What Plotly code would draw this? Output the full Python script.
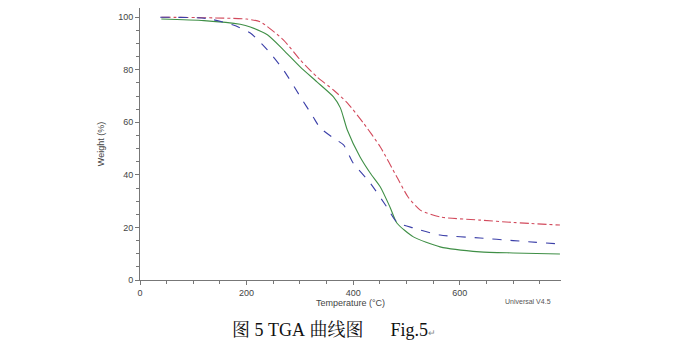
import plotly.graph_objects as go

# Temperature (°C) and weight (%)
red_T = [40, 120, 200, 226, 269, 301, 332, 363, 389, 419, 451, 482, 503, 526, 563, 638, 700, 788]
red_W = [100, 99.8, 99.3, 98.2, 91.4, 83.7, 77.3, 72.3, 67.4, 59.8, 50.6, 39.2, 31.6, 26.6, 24.0, 22.8, 21.9, 20.9]

green_T = [40, 120, 188, 207, 239, 269, 301, 332, 363, 376, 389, 413, 432, 451, 469, 482, 513, 563, 638, 700, 788]
green_W = [99.3, 98.7, 97.3, 96.3, 93.3, 87.6, 81, 75.4, 69.7, 65.5, 57.1, 46.8, 40.7, 35.4, 27.8, 21.7, 16.4, 12.6, 10.7, 10.3, 9.9]

blue_T = [38, 126, 175, 207, 239, 269, 301, 325, 338, 363, 382, 400, 432, 463, 482, 513, 563, 638, 700, 788]
blue_W = [100, 99.5, 97, 94, 87.6, 80, 69.7, 62, 57.9, 54, 51.4, 44.5, 36.9, 27.8, 22, 19.8, 17.1, 16, 15, 13.7]

x_ticks = [0, 200, 400, 600]
y_ticks = [0, 20, 40, 60, 80, 100]

fig = go.Figure()
fig.add_trace(go.Scatter(x=red_T, y=red_W, mode="lines",
                         line=dict(color="#d24a5c", width=1.1, dash="dashdot", shape="spline", smoothing=0.6)))
fig.add_trace(go.Scatter(x=green_T, y=green_W, mode="lines",
                         line=dict(color="#3f8f46", width=1.1, shape="spline", smoothing=0.6)))
fig.add_trace(go.Scatter(x=blue_T, y=blue_W, mode="lines",
                         line=dict(color="#3b3fa8", width=1.1, dash="dash", shape="spline", smoothing=0.6)))

axis_font = dict(family="Arial, Liberation Sans, sans-serif", size=9, color="#444")
fig.update_layout(
    width=680, height=351,
    margin=dict(l=132, r=127, t=0, b=79),
    paper_bgcolor="white", plot_bgcolor="white",
    showlegend=False,
    xaxis=dict(range=[0, 790], tickvals=x_ticks, showgrid=False, zeroline=False,
               showline=True, linecolor="#777", linewidth=1,
               ticks="outside", ticklen=4, tickcolor="#777",
               minor=dict(dtick=50, ticks="outside", ticklen=3, tickcolor="#777"),
               tickfont=axis_font,
               title=dict(text="Temperature (°C)", font=axis_font, standoff=1)),
    yaxis=dict(range=[0, 103.5], tickvals=y_ticks, showgrid=False, zeroline=False,
               showline=True, linecolor="#777", linewidth=1,
               ticks="outside", ticklen=4, tickcolor="#777",
               minor=dict(dtick=5, ticks="outside", ticklen=3, tickcolor="#777"),
               tickfont=axis_font,
               title=dict(text="Weight (%)", font=axis_font, standoff=12)),
    annotations=[
        dict(text="Universal V4.5", xref="paper", yref="paper", x=0.982, y=-0.08,
             xanchor="right", yanchor="middle", showarrow=False,
             font=dict(family="Arial, Liberation Sans, sans-serif", size=7, color="#555")),
        dict(text="图\u00a05\u00a0TGA\u00a0曲线图\u00a0\u00a0\u00a0\u00a0\u00a0\u00a0Fig.5<span style='font-size:9px;color:#888'>↵</span>",
             xref="paper", yref="paper", x=0.46, y=-0.183,
             xanchor="center", yanchor="middle", showarrow=False,
             font=dict(family="Liberation Serif, Noto Serif CJK SC, Noto Sans CJK SC, serif", size=18, color="#111")),
    ],
)

fig.write_html("out.html")
